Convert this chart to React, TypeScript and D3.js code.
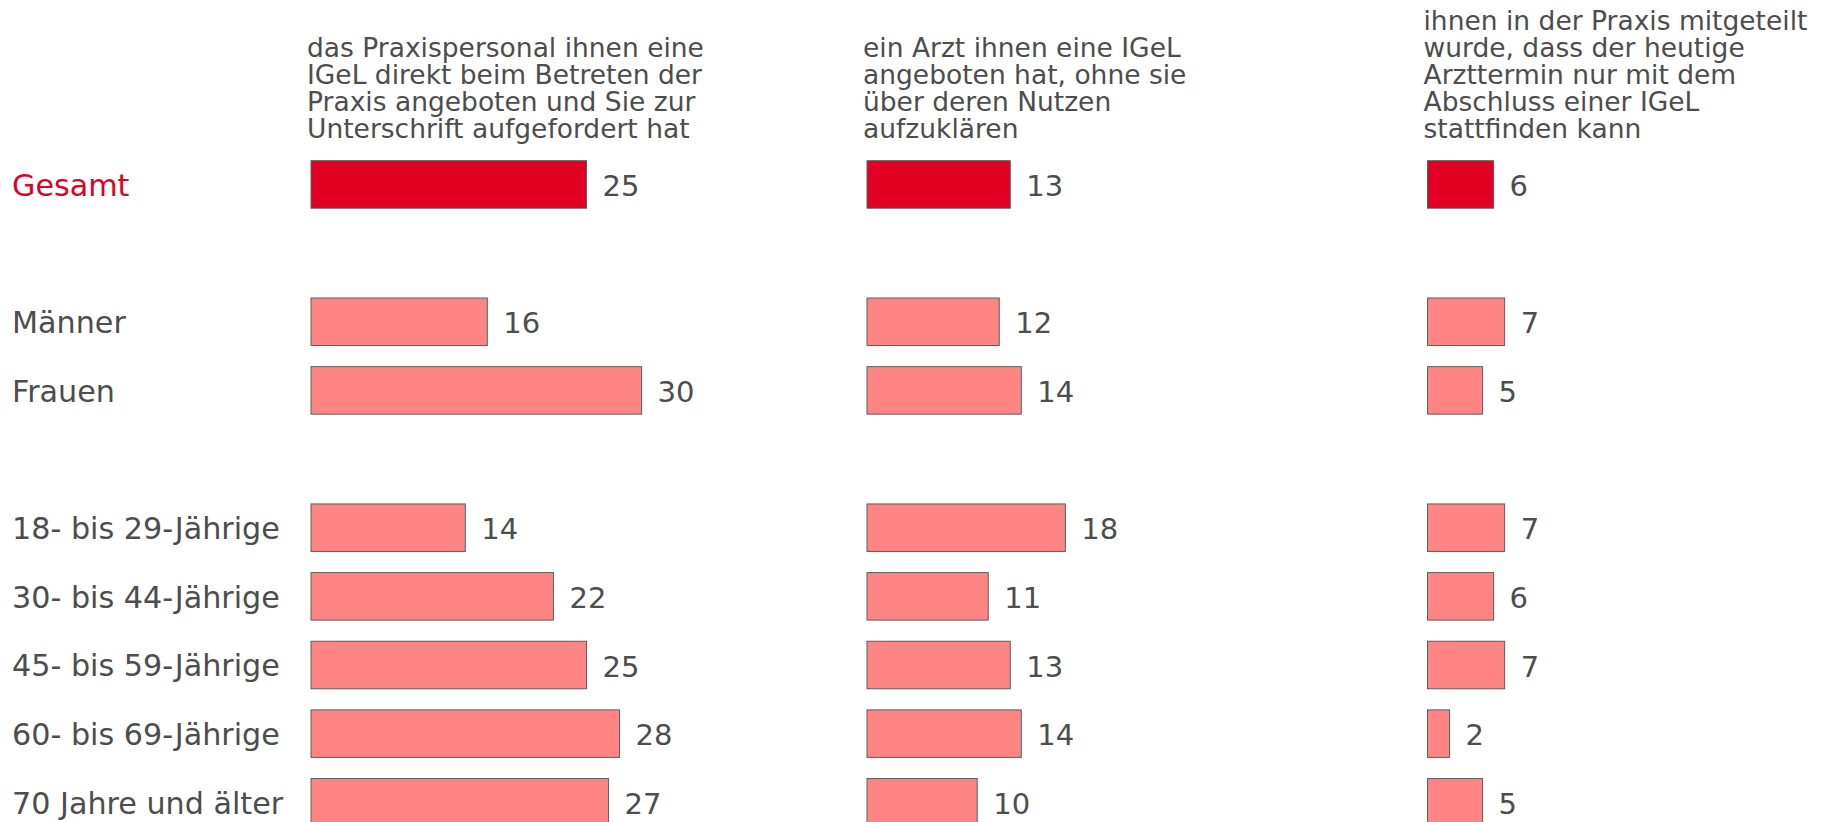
import React from "react";
import * as d3 from "d3";

const categories = [
  "Gesamt",
  "Männer",
  "Frauen",
  "18- bis 29-Jährige",
  "30- bis 44-Jährige",
  "45- bis 59-Jährige",
  "60- bis 69-Jährige",
  "70 Jahre und älter",
];
// row slot index of each category (gaps between groups)
const slots = [0, 2, 3, 5, 6, 7, 8, 9];

const headers = [
  ["das Praxispersonal ihnen eine", "IGeL direkt beim Betreten der", "Praxis angeboten und Sie zur", "Unterschrift aufgefordert hat"],
  ["ein Arzt ihnen eine IGeL", "angeboten hat, ohne sie", "über deren Nutzen", "aufzuklären"],
  ["ihnen in der Praxis mitgeteilt", "wurde, dass der heutige", "Arzttermin nur mit dem", "Abschluss einer IGeL", "stattfinden kann"],
];

const seriesPersonal = [25, 16, 30, 14, 22, 25, 28, 27];
const seriesArzt = [13, 12, 14, 18, 11, 13, 14, 10];
const seriesTermin = [6, 7, 5, 7, 6, 7, 2, 5];
const series = [seriesPersonal, seriesArzt, seriesTermin];

const W = 1830;
const H = 822;
const colX = [311, 867, 1427.5];
const RED = "#E10024";
const PINK = "#FF8484";
const TEXT = "#4D4D4D";
const FONT = "'DejaVu Sans', Verdana, sans-serif";

export default function App() {
  const slotKeys = d3.range(10).map(String);
  const p = 0.308;
  const step = 68.65;
  const r0 = 160.7 - (p / 2) * step;
  const y = d3
    .scaleBand<string>()
    .domain(slotKeys)
    .range([r0, r0 + 10 * step])
    .paddingInner(p)
    .paddingOuter(p / 2);
  const x = d3.scaleLinear().domain([0, 1]).range([0, 11.02]);
  const bw = y.bandwidth();
  const lineH = 26.9;
  const lastBaseline = 137.5;

  return (
    <svg
      width={W}
      height={H}
      viewBox={`0 0 ${W} ${H}`}
      style={{ position: "absolute", left: 0, top: 0, display: "block", background: "#fff" }}
      fontFamily={FONT}
    >
      {headers.map((lines, ci) =>
        lines.map((ln, li) => (
          <text
            key={`h${ci}-${li}`}
            x={colX[ci] - 4}
            y={lastBaseline - (lines.length - 1 - li) * lineH}
            fontSize={26.5}
            fill={TEXT}
          >
            {ln}
          </text>
        ))
      )}
      {categories.map((c, i) => {
        const yy = y(String(slots[i]))!;
        return (
          <text key={`c${i}`} x={12} y={yy + bw / 2 + 11.2} fontSize={30.2} fill={i === 0 ? RED : TEXT}>
            {c}
          </text>
        );
      })}
      {series.map((vals, ci) =>
        vals.map((v, i) => {
          const yy = y(String(slots[i]))!;
          const w = x(v);
          return (
            <g key={`b${ci}-${i}`}>
              <rect
                x={colX[ci]}
                y={yy}
                width={w}
                height={bw}
                fill={i === 0 ? RED : PINK}
                stroke="#5E5E5E"
                strokeWidth={1}
              />
              <text x={colX[ci] + w + 16} y={yy + bw / 2 + 11.5} fontSize={29} fill={TEXT}>
                {v}
              </text>
            </g>
          );
        })
      )}
    </svg>
  );
}
